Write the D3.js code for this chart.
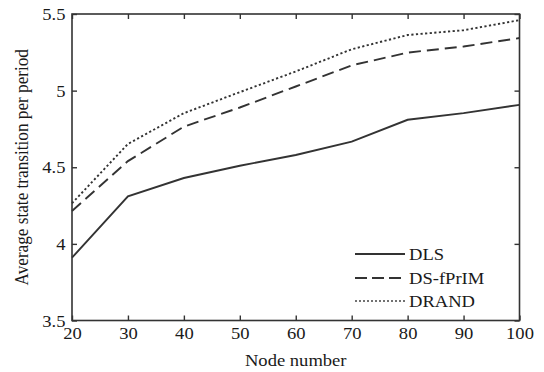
<!DOCTYPE html>
<html><head><meta charset="utf-8">
<script src="https://cdn.jsdelivr.net/npm/d3@7"></script>
<style>
html,body{margin:0;padding:0;background:#fff;}
text{font-family:"Liberation Serif","Times New Roman",serif;fill:#1a1a1a;}
</style></head>
<body>
<svg id="chart" width="544" height="372"></svg>
<script>
const nodes = [20, 30, 40, 50, 60, 70, 80, 90, 100];
const dls = [3.91, 4.31, 4.43, 4.51, 4.58, 4.667, 4.81, 4.853, 4.907];
const dsfprim = [4.215, 4.54, 4.765, 4.89, 5.027, 5.165, 5.248, 5.288, 5.343];
const drand = [4.265, 4.652, 4.853, 4.99, 5.125, 5.27, 5.363, 5.394, 5.46];
const seriesNames = ["DLS", "DS-fPrIM", "DRAND"];
const xTicks = [20, 30, 40, 50, 60, 70, 80, 90, 100];
const yTicks = [3.5, 4, 4.5, 5, 5.5];

const svg = d3.select("#chart");
const m = {left: 72, top: 14, right: 519.5, bottom: 320.5};
const x = d3.scaleLinear().domain([20, 100]).range([m.left, m.right]);
const y = d3.scaleLinear().domain([3.5, 5.5]).range([m.bottom, m.top]);
const ink = "#333";
const fs = 17.2;
const sx = 1.08; // horizontal stretch of the original figure

// box
svg.append("rect").attr("x", m.left).attr("y", m.top)
  .attr("width", m.right - m.left).attr("height", m.bottom - m.top)
  .attr("fill", "none").attr("stroke", ink).attr("stroke-width", 1.6);

const tl = 5;
const xb = svg.append("g").attr("transform", `translate(0,${m.bottom})`)
  .call(d3.axisBottom(x).tickValues(xTicks).tickSize(-tl).tickPadding(6.5).tickFormat(d3.format("d")));
const xt = svg.append("g").attr("transform", `translate(0,${m.top})`)
  .call(d3.axisTop(x).tickValues(xTicks).tickSize(-tl).tickFormat(""));
const yl = svg.append("g").attr("transform", `translate(${m.left},0)`)
  .call(d3.axisLeft(y).tickValues(yTicks).tickSize(-tl).tickPadding(6.5).tickFormat(d => d === 4 || d === 5 ? d3.format("d")(d) : d3.format(".1f")(d)));
const yr = svg.append("g").attr("transform", `translate(${m.right},0)`)
  .call(d3.axisRight(y).tickValues(yTicks).tickSize(-tl).tickFormat(""));
[xb, xt, yl, yr].forEach(g => {
  g.select(".domain").remove();
  g.selectAll(".tick line").attr("stroke", ink).attr("stroke-width", 1.4);
  g.selectAll(".tick text").attr("font-size", fs).attr("fill", "#1a1a1a")
    .attr("font-family", "'Liberation Serif','Times New Roman',serif");
});
xb.selectAll(".tick text").attr("transform", `scale(${sx},1)`);
yl.selectAll(".tick text").attr("dy", "0.32em")
  .attr("x", -6.5 / sx).attr("transform", `scale(${sx},1)`);

// axis titles
svg.append("text").attr("transform", `translate(${(m.left + m.right) / 2},366) scale(${sx},1)`)
  .attr("text-anchor", "middle").attr("font-size", fs).text("Node number");
svg.append("text").attr("transform", `translate(28,${(m.top + m.bottom) / 2}) scale(${sx},1) rotate(-90)`)
  .attr("text-anchor", "middle").attr("font-size", fs).text("Average state transition per period");

// lines
const styles = [
  {data: dls, dash: null, w: 1.9},
  {data: dsfprim, dash: "12,6", w: 1.9},
  {data: drand, dash: "2.2,2.4", w: 1.9}
];
const line = d3.line().x((d, i) => x(nodes[i])).y(d => y(d));
styles.forEach(s => {
  svg.append("path").datum(s.data).attr("d", line)
    .attr("fill", "none").attr("stroke", ink).attr("stroke-width", s.w)
    .attr("stroke-dasharray", s.dash);
});

// legend
const lg = svg.append("g");
const ly = [254, 278, 301];
const legDash = [null, "12,5", "2,2"];
const legW = [2, 2, 1.3];
seriesNames.forEach((n, i) => {
  lg.append("line").attr("x1", 355).attr("x2", 405).attr("y1", ly[i]).attr("y2", ly[i])
    .attr("stroke", i === 2 ? "#444" : ink).attr("stroke-width", legW[i]).attr("stroke-dasharray", legDash[i]);
  lg.append("text").attr("transform", `translate(409,${ly[i]}) scale(${sx},1)`).attr("dy", "0.35em")
    .attr("font-size", fs).text(n);
});
</script>
</body></html>
